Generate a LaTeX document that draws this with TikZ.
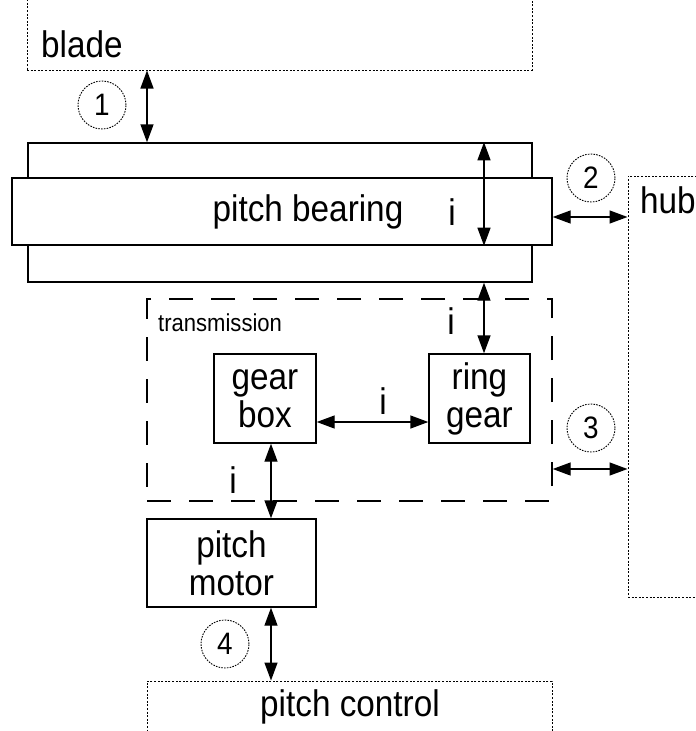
\documentclass[tikz,border=0pt]{standalone}
\usepackage{fontspec}
\setmainfont{Liberation Sans}[FakeStretch=0.9]
\usetikzlibrary{arrows.meta}

\begin{document}
\begin{tikzpicture}[x=1pt, y=-1pt,
  every node/.style={font=\fontsize{37}{38}\selectfont, inner sep=0pt},
  part/.style={draw, line width=1.4pt, fill=white, align=center},
  ext/.style={draw, line width=1pt, dash pattern=on 2pt off 1.6pt},
  num/.style={circle, draw, line width=0.9pt, dash pattern=on 1.6pt off 1.2pt, minimum size=48pt, font=\fontsize{31}{31}\selectfont},
  link/.style={{Triangle[length=18pt,width=13pt]}-{Triangle[length=18pt,width=13pt]}, line width=1.4pt}]
\useasboundingbox (0,0) rectangle (696,731);
\clip (0,0) rectangle (696,731);

% outside parts
\node[ext, minimum width=505pt, minimum height=110pt] (blade) at (279.5,15) {};
\node[anchor=base west] at (41,57) {blade};
\node[ext, minimum width=112pt, minimum height=421pt] (hub) at (684,386.5) {};
\node[anchor=base west] at (640,213) {hub};
\node[ext, minimum width=405pt, minimum height=99pt] (ctrl) at (349.5,730.5) {};
\node[anchor=base] at (350,716) {pitch control};

% bearing
\node[part, minimum width=504pt, minimum height=139pt] (outer) at (280,212.5) {};
\node[part, minimum width=540pt, minimum height=67pt] (inner) at (282,211.5) {};
\node at (308,212) {pitch bearing};

% transmission
\node[draw, line width=1.4pt, dash pattern=on 24pt off 18pt, minimum width=405pt, minimum height=202pt] (tr) at (349.5,400) {};
\node[anchor=west, font=\fontsize{24.5}{25}\selectfont] at (158,323) {transmission};
\node[part, minimum width=102pt, minimum height=89pt] (gbox) at (265,398.5) {gear\\box};
\node[part, minimum width=101pt, minimum height=89pt] (ring) at (479.5,398.5) {ring\\gear};
\node[part, minimum width=169pt, minimum height=88pt] (motor) at (231.5,563) {pitch\\motor};

% interfaces
\coordinate (x1) at (147,0);
\coordinate (x4) at (271,0);
\coordinate (xi) at (484,0);
\coordinate (y2) at (0,217);
\coordinate (y3) at (0,469);
\coordinate (yg) at (0,422);
\draw[link] (blade.south -| x1) -- (outer.north -| x1);
\draw[link] (outer.north -| xi) -- (inner.south -| xi);
\draw[link] (inner.east |- y2) -- (hub.west |- y2);
\draw[link] (outer.south -| xi) -- (ring.north -| xi);
\draw[link] (gbox.east |- yg) -- (ring.west |- yg);
\draw[link] (tr.east |- y3) -- (hub.west |- y3);
\draw[link] (gbox.south -| x4) -- (motor.north -| x4);
\draw[link] (motor.south -| x4) -- (ctrl.north -| x4);

\node at (452,212) {i};
\node at (451,321) {i};
\node at (383,401) {i};
\node at (233,480) {i};

\node[num] (n1) at (102,105) {1};
\node[num] (n2) at (591,178) {2};
\node[num] (n3) at (591,428) {3};
\node[num] (n4) at (225,644) {4};
\end{tikzpicture}
\end{document}
